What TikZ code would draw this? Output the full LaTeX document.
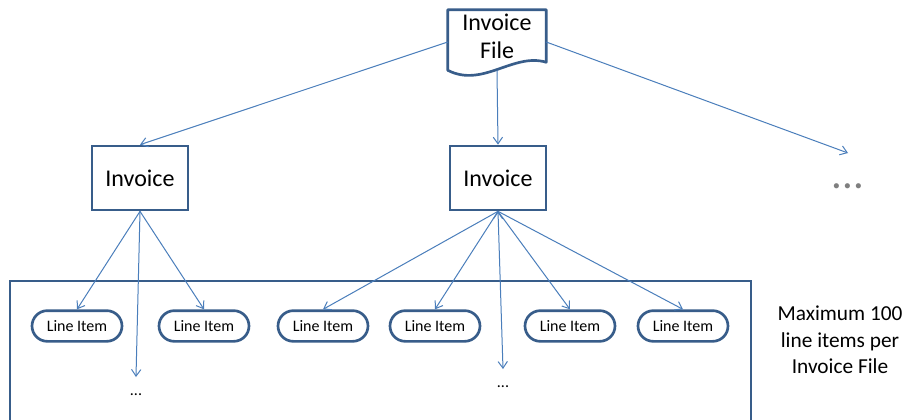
\documentclass[tikz,border=0pt]{standalone}
\usepackage{fontspec}
\setmainfont{Carlito}
\usetikzlibrary{%
  arrows.meta,%
  calc,%
  shapes.misc%
}
\definecolor{boxblue}{HTML}{385D8A}
\definecolor{arrowblue}{HTML}{4A7EBB}
\definecolor{dotgray}{HTML}{7F7F7F}
\tikzset{
  invoice/.style={draw=boxblue,line width=2pt,minimum width=72pt,minimum height=48pt,
    font=\fontsize{18}{21}\selectfont},
  lineitem/.style={draw=boxblue,line width=2pt,rounded rectangle,minimum width=67.5pt,
    minimum height=23pt,inner sep=0pt,font=\fontsize{12}{14}\selectfont},
  link/.style={arrowblue,line width=0.75pt,-{Straight Barb[length=5pt,width=7pt]}}
}

\begin{document}
\begin{tikzpicture}[x=0.75pt,y=-0.75pt]
\fill[white] (0,0) rectangle (904,419);
\useasboundingbox (0,0) rectangle (904,419);
% the file, with its wavy bottom
\node[align=center,minimum width=73.5pt,minimum height=39pt,inner sep=0pt,
  font=\fontsize{18}{21}\selectfont] (file) at (497,36) {Invoice\\File};
\draw[boxblue,line width=2pt,line join=round] (file.north west) -- (file.north east)
  -- (file.south east) .. controls +(-33,-10) and +(35,18) .. ($(file.south west)+(0,8)$)
  -- cycle;
%
\node[invoice] (inv1) at (140,178) {Invoice};
\node[invoice] (inv2) at (498,178) {Invoice};
\coordinate (more) at (848,153);
\node[text=dotgray,font=\fontsize{32}{32}\selectfont] (dots) at (848,186) {...};
%
\draw[boxblue,line width=2pt] (10,425) |- (751,281) -- (751,425);
\node[lineitem] (li1) at (77,326) {Line Item};
\node[lineitem] (li2) at (204,326) {Line Item};
\node[lineitem] (li3) at (323,326) {Line Item};
\node[lineitem] (li4) at (435,326) {Line Item};
\node[lineitem] (li5) at (570,326) {Line Item};
\node[lineitem] (li6) at (683,326) {Line Item};
\coordinate (more1) at (136,377);
\coordinate (more2) at (503,369);
\node[font=\fontsize{12}{14}\selectfont] (dots1) at (136,395) {...};
\node[font=\fontsize{12}{14}\selectfont] (dots2) at (503,387) {...};
\node[align=center,font=\fontsize{16}{20}\selectfont] (note) at (840,340)
  {Maximum 100\\line items per\\Invoice File};
%
\draw[link] ($(file.west)+(0,6)$) edge (inv1.north)
            ($(file.south)+(0,8)$) edge (inv2.north)
            ($(file.east)+(0,6)$) edge (more)
            (inv1.south) edge (li1.north)
            (inv1.south) edge (li2.north)
            (inv1.south) edge (more1)
            (inv2.south) edge (li3.north)
            (inv2.south) edge (li4.north)
            (inv2.south) edge (li5.north)
            (inv2.south) edge (li6.north)
            (inv2.south) edge (more2)
;
\end{tikzpicture}
\end{document}
